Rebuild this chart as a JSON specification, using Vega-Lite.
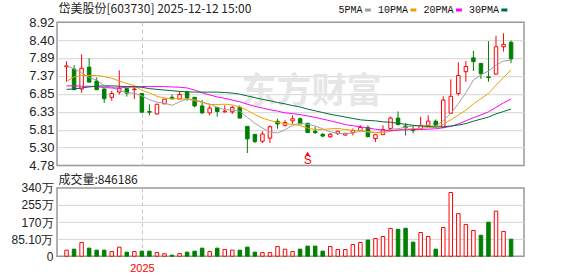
{
  "$schema": "https://vega.github.io/schema/vega-lite/v6.json",
  "background": "white",
  "padding": {"left": 10, "top": 2.2, "right": 4, "bottom": 2},
  "bounds": "flush",
  "spacing": 21.7,
  "title": {"text": "岱美股份[603730] 2025-12-12 15:00", "anchor": "start", "frame": "group", "font": "Noto Sans CJK SC", "fontSize": 12, "fontWeight": "normal", "color": "#222222", "baseline": "bottom", "offset": -22.8, "dx": 1.5},
  "config": {
    "view": {"stroke": "#999999", "strokeWidth": 1.5},
    "axis": {"labelFont": "Liberation Sans", "labelColor": "#222222", "ticks": false, "tickSize": 0, "domain": false, "grid": true, "gridColor": "#d4d4d4", "gridWidth": 1, "labelOverlap": false, "labelFlush": false, "labelBound": false},
    "axisX": {"gridDash": [4, 3], "gridColor": "#c4c4c4"}
  },
  "datasets": {
    "k": [
      {"i":0,"o":7.63,"h":7.79,"l":7.2,"c":7.66,"d":"u","v":30,"vd":"u"},
      {"i":1,"o":7.57,"h":7.68,"l":6.96,"c":6.97,"d":"d","v":35,"vd":"d"},
      {"i":2,"o":6.99,"h":7.99,"l":6.88,"c":7.59,"d":"u","v":68,"vd":"u"},
      {"i":3,"o":7.62,"h":7.88,"l":7.18,"c":7.19,"d":"d","v":40,"vd":"d"},
      {"i":4,"o":7.22,"h":7.32,"l":6.96,"c":6.97,"d":"d","v":30,"vd":"d"},
      {"i":5,"o":6.99,"h":7.0,"l":6.59,"c":6.71,"d":"d","v":30,"vd":"d"},
      {"i":6,"o":6.75,"h":6.94,"l":6.65,"c":6.86,"d":"u","v":23,"vd":"u"},
      {"i":7,"o":6.9,"h":7.53,"l":6.83,"c":7.01,"d":"u","v":45,"vd":"u"},
      {"i":8,"o":7.0,"h":7.0,"l":6.77,"c":6.87,"d":"d","v":20,"vd":"d"},
      {"i":9,"o":6.97,"h":7.05,"l":6.7,"c":6.99,"d":"u","v":23,"vd":"u"},
      {"i":10,"o":6.86,"h":6.86,"l":6.31,"c":6.32,"d":"d","v":25,"vd":"d"},
      {"i":11,"o":6.34,"h":6.55,"l":6.23,"c":6.32,"d":"d","v":25,"vd":"d"},
      {"i":12,"o":6.27,"h":6.56,"l":6.25,"c":6.55,"d":"u","v":18,"vd":"u"},
      {"i":13,"o":6.56,"h":6.7,"l":6.56,"c":6.7,"d":"u","v":12,"vd":"u"},
      {"i":14,"o":6.75,"h":6.83,"l":6.71,"c":6.71,"d":"d","v":5,"vd":"d"},
      {"i":15,"o":6.7,"h":6.93,"l":6.7,"c":6.83,"d":"u","v":13,"vd":"u"},
      {"i":16,"o":6.9,"h":6.94,"l":6.65,"c":6.73,"d":"d","v":20,"vd":"d"},
      {"i":17,"o":6.75,"h":6.75,"l":6.46,"c":6.5,"d":"d","v":25,"vd":"d"},
      {"i":18,"o":6.5,"h":6.67,"l":6.27,"c":6.3,"d":"d","v":40,"vd":"d"},
      {"i":19,"o":6.3,"h":6.52,"l":6.23,"c":6.44,"d":"u","v":23,"vd":"u"},
      {"i":20,"o":6.46,"h":6.46,"l":6.19,"c":6.34,"d":"d","v":40,"vd":"d"},
      {"i":21,"o":6.33,"h":6.52,"l":6.31,"c":6.35,"d":"u","v":33,"vd":"u"},
      {"i":22,"o":6.33,"h":6.5,"l":6.27,"c":6.46,"d":"u","v":30,"vd":"u"},
      {"i":23,"o":6.46,"h":6.52,"l":6.15,"c":6.15,"d":"d","v":30,"vd":"d"},
      {"i":24,"o":5.91,"h":5.92,"l":5.14,"c":5.55,"d":"d","v":45,"vd":"d"},
      {"i":25,"o":5.68,"h":5.69,"l":5.43,"c":5.47,"d":"d","v":20,"vd":"d"},
      {"i":26,"o":5.48,"h":5.77,"l":5.43,"c":5.69,"d":"u","v":18,"vd":"u"},
      {"i":27,"o":5.57,"h":5.94,"l":5.43,"c":5.9,"d":"u","v":18,"vd":"u"},
      {"i":28,"o":6.06,"h":6.13,"l":5.84,"c":5.98,"d":"d","v":48,"vd":"u"},
      {"i":29,"o":5.94,"h":6.09,"l":5.9,"c":6.02,"d":"u","v":35,"vd":"u"},
      {"i":30,"o":6.07,"h":6.23,"l":5.98,"c":6.13,"d":"u","v":23,"vd":"u"},
      {"i":31,"o":6.13,"h":6.17,"l":5.98,"c":5.98,"d":"d","v":35,"vd":"d"},
      {"i":32,"o":6.0,"h":6.0,"l":5.72,"c":5.73,"d":"d","v":50,"vd":"d"},
      {"i":33,"o":5.77,"h":5.9,"l":5.69,"c":5.73,"d":"d","v":50,"vd":"d"},
      {"i":34,"o":5.68,"h":5.72,"l":5.6,"c":5.63,"d":"d","v":25,"vd":"d"},
      {"i":35,"o":5.61,"h":5.72,"l":5.58,"c":5.68,"d":"u","v":48,"vd":"u"},
      {"i":36,"o":5.7,"h":5.78,"l":5.66,"c":5.77,"d":"u","v":33,"vd":"u"},
      {"i":37,"o":5.66,"h":5.72,"l":5.64,"c":5.71,"d":"u","v":33,"vd":"u"},
      {"i":38,"o":5.73,"h":5.85,"l":5.65,"c":5.79,"d":"u","v":58,"vd":"u"},
      {"i":39,"o":5.79,"h":5.94,"l":5.77,"c":5.88,"d":"u","v":68,"vd":"u"},
      {"i":40,"o":5.88,"h":5.94,"l":5.61,"c":5.61,"d":"d","v":80,"vd":"d"},
      {"i":41,"o":5.56,"h":5.67,"l":5.46,"c":5.67,"d":"u","v":88,"vd":"u"},
      {"i":42,"o":5.67,"h":5.94,"l":5.67,"c":5.82,"d":"u","v":98,"vd":"u"},
      {"i":43,"o":5.85,"h":6.19,"l":5.81,"c":6.15,"d":"u","v":138,"vd":"u"},
      {"i":44,"o":6.15,"h":6.34,"l":5.94,"c":5.96,"d":"d","v":134,"vd":"d"},
      {"i":45,"o":5.92,"h":6.0,"l":5.65,"c":5.87,"d":"d","v":139,"vd":"d"},
      {"i":46,"o":5.83,"h":5.94,"l":5.71,"c":5.79,"d":"d","v":70,"vd":"d"},
      {"i":47,"o":5.85,"h":6.19,"l":5.85,"c":5.94,"d":"u","v":118,"vd":"u"},
      {"i":48,"o":5.94,"h":6.23,"l":5.91,"c":6.06,"d":"u","v":98,"vd":"u"},
      {"i":49,"o":6.06,"h":6.11,"l":5.91,"c":5.94,"d":"d","v":35,"vd":"d"},
      {"i":50,"o":5.88,"h":6.78,"l":5.86,"c":6.67,"d":"u","v":143,"vd":"u"},
      {"i":51,"o":6.29,"h":7.27,"l":6.27,"c":6.78,"d":"u","v":317,"vd":"u"},
      {"i":52,"o":6.86,"h":7.76,"l":6.8,"c":7.38,"d":"u","v":212,"vd":"u"},
      {"i":53,"o":7.49,"h":7.8,"l":7.2,"c":7.64,"d":"u","v":158,"vd":"u"},
      {"i":54,"o":7.89,"h":8.09,"l":7.51,"c":7.78,"d":"d","v":128,"vd":"u"},
      {"i":55,"o":7.73,"h":7.73,"l":7.28,"c":7.43,"d":"d","v":104,"vd":"d"},
      {"i":56,"o":7.34,"h":8.37,"l":7.2,"c":7.32,"d":"d","v":169,"vd":"d"},
      {"i":57,"o":7.42,"h":8.53,"l":7.4,"c":8.21,"d":"u","v":224,"vd":"u"},
      {"i":58,"o":8.21,"h":8.6,"l":8.07,"c":8.28,"d":"u","v":123,"vd":"u"},
      {"i":59,"o":8.34,"h":8.39,"l":7.74,"c":7.86,"d":"d","v":84.6,"vd":"d"}
    ],
    "ma": [
      {"i":0,"5PMA":7.66,"10PMA":7.21,"20PMA":7.08,"30PMA":6.98},
      {"i":1,"5PMA":7.57,"10PMA":7.34,"20PMA":7.08,"30PMA":6.99},
      {"i":2,"5PMA":7.46,"10PMA":7.38,"20PMA":7.07,"30PMA":7.02},
      {"i":3,"5PMA":7.32,"10PMA":7.38,"20PMA":7.07,"30PMA":7.05},
      {"i":4,"5PMA":7.25,"10PMA":7.38,"20PMA":7.06,"30PMA":7.07},
      {"i":5,"5PMA":7.08,"10PMA":7.35,"20PMA":7.03,"30PMA":7.08},
      {"i":6,"5PMA":7.04,"10PMA":7.3,"20PMA":7.02,"30PMA":7.08},
      {"i":7,"5PMA":6.95,"10PMA":7.22,"20PMA":7.02,"30PMA":7.07},
      {"i":8,"5PMA":6.88,"10PMA":7.15,"20PMA":7.04,"30PMA":7.06},
      {"i":9,"5PMA":6.87,"10PMA":7.09,"20PMA":7.05,"30PMA":7.06},
      {"i":10,"5PMA":6.79,"10PMA":6.95,"20PMA":7.06,"30PMA":7.04},
      {"i":11,"5PMA":6.68,"10PMA":6.88,"20PMA":7.06,"30PMA":7.0},
      {"i":12,"5PMA":6.61,"10PMA":6.78,"20PMA":7.06,"30PMA":6.98},
      {"i":13,"5PMA":6.58,"10PMA":6.73,"20PMA":7.06,"30PMA":6.96},
      {"i":14,"5PMA":6.52,"10PMA":6.7,"20PMA":7.05,"30PMA":6.94},
      {"i":15,"5PMA":6.62,"10PMA":6.71,"20PMA":7.04,"30PMA":6.92},
      {"i":16,"5PMA":6.7,"10PMA":6.7,"20PMA":7.02,"30PMA":6.91},
      {"i":17,"5PMA":6.69,"10PMA":6.65,"20PMA":6.96,"30PMA":6.9},
      {"i":18,"5PMA":6.61,"10PMA":6.6,"20PMA":6.88,"30PMA":6.9},
      {"i":19,"5PMA":6.56,"10PMA":6.54,"20PMA":6.82,"30PMA":6.9},
      {"i":20,"5PMA":6.46,"10PMA":6.54,"20PMA":6.76,"30PMA":6.9},
      {"i":21,"5PMA":6.39,"10PMA":6.55,"20PMA":6.72,"30PMA":6.89},
      {"i":22,"5PMA":6.38,"10PMA":6.53,"20PMA":6.67,"30PMA":6.87},
      {"i":23,"5PMA":6.35,"10PMA":6.47,"20PMA":6.62,"30PMA":6.84},
      {"i":24,"5PMA":6.17,"10PMA":6.37,"20PMA":6.55,"30PMA":6.79},
      {"i":25,"5PMA":6.0,"10PMA":6.25,"20PMA":6.49,"30PMA":6.74},
      {"i":26,"5PMA":5.86,"10PMA":6.15,"20PMA":6.44,"30PMA":6.69},
      {"i":27,"5PMA":5.75,"10PMA":6.08,"20PMA":6.39,"30PMA":6.65},
      {"i":28,"5PMA":5.72,"10PMA":6.03,"20PMA":6.35,"30PMA":6.6},
      {"i":29,"5PMA":5.81,"10PMA":5.99,"20PMA":6.3,"30PMA":6.56},
      {"i":30,"5PMA":5.94,"10PMA":5.97,"20PMA":6.28,"30PMA":6.51},
      {"i":31,"5PMA":6.0,"10PMA":5.93,"20PMA":6.25,"30PMA":6.47},
      {"i":32,"5PMA":5.97,"10PMA":5.86,"20PMA":6.21,"30PMA":6.41},
      {"i":33,"5PMA":5.92,"10PMA":5.82,"20PMA":6.17,"30PMA":6.36},
      {"i":34,"5PMA":5.84,"10PMA":5.82,"20PMA":6.12,"30PMA":6.31},
      {"i":35,"5PMA":5.75,"10PMA":5.84,"20PMA":6.07,"30PMA":6.26},
      {"i":36,"5PMA":5.71,"10PMA":5.85,"20PMA":6.02,"30PMA":6.22},
      {"i":37,"5PMA":5.7,"10PMA":5.82,"20PMA":5.96,"30PMA":6.18},
      {"i":38,"5PMA":5.72,"10PMA":5.8,"20PMA":5.93,"30PMA":6.14},
      {"i":39,"5PMA":5.77,"10PMA":5.79,"20PMA":5.9,"30PMA":6.1},
      {"i":40,"5PMA":5.75,"10PMA":5.76,"20PMA":5.86,"30PMA":6.08},
      {"i":41,"5PMA":5.73,"10PMA":5.73,"20PMA":5.83,"30PMA":6.07},
      {"i":42,"5PMA":5.75,"10PMA":5.73,"20PMA":5.8,"30PMA":6.04},
      {"i":43,"5PMA":5.83,"10PMA":5.77,"20PMA":5.79,"30PMA":6.03},
      {"i":44,"5PMA":5.84,"10PMA":5.81,"20PMA":5.8,"30PMA":6.0},
      {"i":45,"5PMA":5.89,"10PMA":5.83,"20PMA":5.81,"30PMA":5.97},
      {"i":46,"5PMA":5.92,"10PMA":5.84,"20PMA":5.82,"30PMA":5.94},
      {"i":47,"5PMA":5.94,"10PMA":5.85,"20PMA":5.82,"30PMA":5.92},
      {"i":48,"5PMA":5.92,"10PMA":5.88,"20PMA":5.83,"30PMA":5.91},
      {"i":49,"5PMA":5.92,"10PMA":5.89,"20PMA":5.84,"30PMA":5.89},
      {"i":50,"5PMA":6.08,"10PMA":5.97,"20PMA":5.87,"30PMA":5.9},
      {"i":51,"5PMA":6.28,"10PMA":6.1,"20PMA":5.91,"30PMA":5.92},
      {"i":52,"5PMA":6.57,"10PMA":6.24,"20PMA":5.98,"30PMA":5.95},
      {"i":53,"5PMA":6.88,"10PMA":6.38,"20PMA":6.07,"30PMA":5.99},
      {"i":54,"5PMA":7.25,"10PMA":6.56,"20PMA":6.16,"30PMA":6.06},
      {"i":55,"5PMA":7.4,"10PMA":6.71,"20PMA":6.24,"30PMA":6.12},
      {"i":56,"5PMA":7.51,"10PMA":6.86,"20PMA":6.33,"30PMA":6.18},
      {"i":57,"5PMA":7.68,"10PMA":7.1,"20PMA":6.46,"30PMA":6.27},
      {"i":58,"5PMA":7.8,"10PMA":7.32,"20PMA":6.59,"30PMA":6.34},
      {"i":59,"5PMA":7.82,"10PMA":7.54,"20PMA":6.7,"30PMA":6.41}
    ],
    "sig": [{"i": 32, "p": 4.93, "ap": 5.12, "t": "S"}],
    "wm": [{"i": 32.5, "p": 6.89, "t": "东方财富"}]
  },
  "resolve": {"scale": {"x": "independent", "y": "independent"}},
  "vconcat": [
    {
      "width": 467,
      "height": 143.3,
      "encoding": {
        "x": {"field": "i", "type": "quantitative", "title": null, "scale": {"domain": [-0.6, 60.05], "nice": false, "zero": false}, "axis": {"values": [10], "labels": false}}
      },
      "layer": [
        {
          "data": {"name": "wm"},
          "mark": {"type": "text", "font": "Noto Sans CJK SC", "fontSize": 35, "fontWeight": "bold", "color": "#e6e6e6"},
          "encoding": {
            "y": {"field": "p", "type": "quantitative", "title": null, "scale": {"domain": [4.78, 8.92], "nice": false, "zero": false}, "axis": {"values": [4.78, 5.3, 5.81, 6.33, 6.85, 7.37, 7.89, 8.4, 8.92], "format": ".2f", "labelFontSize": 13, "labelPadding": 3, "gridOpacity": {"condition": {"test": "datum.value > 4.8 && datum.value < 8.9", "value": 1}, "value": 0}}},
            "text": {"field": "t"}
          }
        },
        {
          "data": {"name": "k"},
          "transform": [{"filter": "datum.d == 'u'"}],
          "mark": {"type": "rule", "color": "#ff0000", "strokeWidth": 1},
          "encoding": {
            "y": {"field": "l", "type": "quantitative", "title": null, "scale": {"domain": [4.78, 8.92], "nice": false, "zero": false}, "axis": {"values": [4.78, 5.3, 5.81, 6.33, 6.85, 7.37, 7.89, 8.4, 8.92], "format": ".2f", "labelFontSize": 13, "labelPadding": 3, "gridOpacity": {"condition": {"test": "datum.value > 4.8 && datum.value < 8.9", "value": 1}, "value": 0}}},
            "y2": {"field": "h"}
          }
        },
        {
          "data": {"name": "k"},
          "transform": [{"filter": "datum.d == 'd'"}],
          "mark": {"type": "rule", "color": "#008000", "strokeWidth": 1},
          "encoding": {
            "y": {"field": "l", "type": "quantitative", "title": null, "scale": {"domain": [4.78, 8.92], "nice": false, "zero": false}, "axis": {"values": [4.78, 5.3, 5.81, 6.33, 6.85, 7.37, 7.89, 8.4, 8.92], "format": ".2f", "labelFontSize": 13, "labelPadding": 3, "gridOpacity": {"condition": {"test": "datum.value > 4.8 && datum.value < 8.9", "value": 1}, "value": 0}}},
            "y2": {"field": "h"}
          }
        },
        {
          "data": {"name": "k"},
          "transform": [{"filter": "datum.d == 'u'"}],
          "mark": {"type": "bar", "size": 3.5, "fill": "white", "stroke": "#ff0000", "strokeWidth": 1},
          "encoding": {
            "y": {"field": "o", "type": "quantitative", "title": null, "scale": {"domain": [4.78, 8.92], "nice": false, "zero": false}, "axis": {"values": [4.78, 5.3, 5.81, 6.33, 6.85, 7.37, 7.89, 8.4, 8.92], "format": ".2f", "labelFontSize": 13, "labelPadding": 3, "gridOpacity": {"condition": {"test": "datum.value > 4.8 && datum.value < 8.9", "value": 1}, "value": 0}}},
            "y2": {"field": "c"}
          }
        },
        {
          "data": {"name": "k"},
          "transform": [{"filter": "datum.d == 'd'"}],
          "mark": {"type": "bar", "size": 3.5, "fill": "#008000", "stroke": "#008000", "strokeWidth": 1},
          "encoding": {
            "y": {"field": "o", "type": "quantitative", "title": null, "scale": {"domain": [4.78, 8.92], "nice": false, "zero": false}, "axis": {"values": [4.78, 5.3, 5.81, 6.33, 6.85, 7.37, 7.89, 8.4, 8.92], "format": ".2f", "labelFontSize": 13, "labelPadding": 3, "gridOpacity": {"condition": {"test": "datum.value > 4.8 && datum.value < 8.9", "value": 1}, "value": 0}}},
            "y2": {"field": "c"}
          }
        },
        {
          "data": {"name": "ma"},
          "transform": [{"fold": ["5PMA", "10PMA", "20PMA", "30PMA"], "as": ["ma", "v"]}],
          "mark": {"type": "line", "strokeWidth": 1},
          "encoding": {
            "y": {"field": "v", "type": "quantitative", "title": null, "scale": {"domain": [4.78, 8.92], "nice": false, "zero": false}, "axis": {"values": [4.78, 5.3, 5.81, 6.33, 6.85, 7.37, 7.89, 8.4, 8.92], "format": ".2f", "labelFontSize": 13, "labelPadding": 3, "gridOpacity": {"condition": {"test": "datum.value > 4.8 && datum.value < 8.9", "value": 1}, "value": 0}}},
            "color": {
              "field": "ma", "type": "nominal",
              "scale": {"domain": ["5PMA", "10PMA", "20PMA", "30PMA"], "range": ["#a0a0a0", "#f0a000", "#ff00ff", "#006b35"]},
              "legend": {"orient": "none", "legendX": 305.9, "legendY": -17.2, "direction": "horizontal", "title": null, "padding": 0, "labelFont": "Liberation Mono", "labelFontSize": 10, "labelColor": "#111111", "labelAlign": "right", "labelOffset": -10.5, "symbolType": "M-1,0H1", "symbolSize": 36, "symbolStrokeWidth": 3, "symbolOffset": 0, "columnPadding": 0.5}
            }
          }
        },
        {
          "data": {"name": "sig"},
          "mark": {"type": "point", "shape": "triangle-up", "filled": true, "color": "#ff0000", "size": 22, "opacity": 1},
          "encoding": {
            "y": {"field": "ap", "type": "quantitative", "title": null, "scale": {"domain": [4.78, 8.92], "nice": false, "zero": false}, "axis": {"values": [4.78, 5.3, 5.81, 6.33, 6.85, 7.37, 7.89, 8.4, 8.92], "format": ".2f", "labelFontSize": 13, "labelPadding": 3, "gridOpacity": {"condition": {"test": "datum.value > 4.8 && datum.value < 8.9", "value": 1}, "value": 0}}}
          }
        },
        {
          "data": {"name": "sig"},
          "mark": {"type": "text", "color": "#ff0000", "font": "Liberation Sans", "fontSize": 12},
          "encoding": {
            "y": {"field": "p", "type": "quantitative", "title": null, "scale": {"domain": [4.78, 8.92], "nice": false, "zero": false}, "axis": {"values": [4.78, 5.3, 5.81, 6.33, 6.85, 7.37, 7.89, 8.4, 8.92], "format": ".2f", "labelFontSize": 13, "labelPadding": 3, "gridOpacity": {"condition": {"test": "datum.value > 4.8 && datum.value < 8.9", "value": 1}, "value": 0}}},
            "text": {"field": "t"}
          }
        }
      ]
    },
    {
      "width": 467,
      "height": 68.3,
      "title": {"text": "成交量:846186", "anchor": "start", "frame": "group", "font": "Noto Sans CJK SC", "fontSize": 12, "fontWeight": "normal", "color": "#222222", "baseline": "bottom", "offset": -17.3, "dx": 1.5},
      "data": {"name": "k"},
      "encoding": {
        "x": {"field": "i", "type": "quantitative", "title": null, "scale": {"domain": [-0.6, 60.05], "nice": false, "zero": false}, "axis": {"values": [10], "labelExpr": "'2025'", "labelColor": "#ff0000", "labelFontSize": 11, "labelPadding": 6}}
      },
      "layer": [
        {
          "transform": [{"filter": "datum.vd == 'u'"}],
          "mark": {"type": "bar", "size": 3.5, "fill": "white", "stroke": "#ff0000", "strokeWidth": 1},
          "encoding": {
            "y": {"field": "v", "type": "quantitative", "title": null, "scale": {"domain": [0, 340], "nice": false}, "axis": {"values": [0, 85.1, 170, 255, 340], "labelExpr": "datum.value == 0 ? '0' : (datum.value == 85.1 ? '85.10万' : datum.value + '万')", "labelFontSize": 12, "labelPadding": 4, "gridOpacity": {"condition": {"test": "datum.value > 1 && datum.value < 339", "value": 1}, "value": 0}}}
          }
        },
        {
          "transform": [{"filter": "datum.vd == 'd'"}],
          "mark": {"type": "bar", "size": 3.5, "fill": "#008000", "stroke": "#008000", "strokeWidth": 1},
          "encoding": {
            "y": {"field": "v", "type": "quantitative", "title": null, "scale": {"domain": [0, 340], "nice": false}, "axis": {"values": [0, 85.1, 170, 255, 340], "labelExpr": "datum.value == 0 ? '0' : (datum.value == 85.1 ? '85.10万' : datum.value + '万')", "labelFontSize": 12, "labelPadding": 4, "gridOpacity": {"condition": {"test": "datum.value > 1 && datum.value < 339", "value": 1}, "value": 0}}}
          }
        }
      ]
    }
  ]
}
